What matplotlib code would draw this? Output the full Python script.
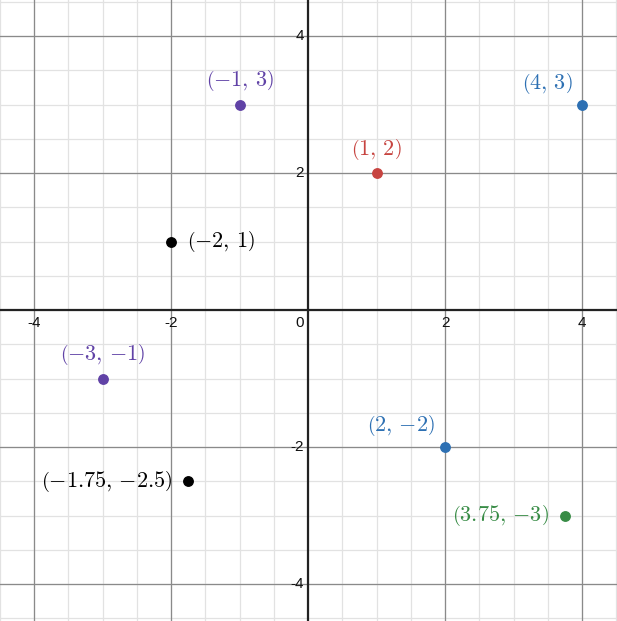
import matplotlib
matplotlib.use("Agg")
import matplotlib.pyplot as plt
import numpy as np

plt.rcParams['mathtext.fontset'] = 'cm'

xs = [-1, 1, 4, -2, -3, 2, -1.75, 3.75]
ys = [3, 2, 3, 1, -1, -2, -2.5, -3]
labels = [r"$\left(-1,\,3\right)$", r"$\left(1,\,2\right)$", r"$\left(4,\,3\right)$", r"$\left(-2,\,1\right)$",
          r"$\left(-3,\,{-1}\right)$", r"$\left(2,\,{-2}\right)$", r"$\left(-1.75,\,{-2.5}\right)$",
          r"$\left(3.75,\,{-3}\right)$"]
colors = ["#6042a6", "#c74440", "#2d70b3", "#000000", "#6042a6", "#2d70b3", "#000000", "#388c46"]
# label placement: offsets in pixels (dx, dy) and alignment
offsets = [(0, 24, 'center'), (0, 24, 'center'), (-35, 21, 'center'), (16, 0, 'left'),
           (0, 24, 'center'), (-44, 21, 'center'), (-16, 0, 'right'), (-16, 0, 'right')]

major_ticks = [-4, -2, 2, 4]

fig = plt.figure(figsize=(6.17, 6.21), dpi=100)
ax = fig.add_axes([0, 0, 1, 1])
ax.set_xlim(-308 / 68.5, (617 - 308) / 68.5)
ax.set_ylim(-(621 - 310) / 68.5, 310 / 68.5)

for v in np.arange(-5, 5.01, 0.5):
    ax.axvline(v, color="#e2e2e2", lw=0.9, zorder=0)
    ax.axhline(v, color="#e2e2e2", lw=0.9, zorder=0)
for v in major_ticks:
    ax.axvline(v, color="#8a8a8a", lw=0.9, zorder=1)
    ax.axhline(v, color="#8a8a8a", lw=0.9, zorder=1)
ax.axhline(0, color="#222222", lw=1.6, zorder=2)
ax.axvline(0, color="#222222", lw=1.6, zorder=2)

tick_fs = 11
for v in major_ticks:
    ax.annotate(f"{v}", (v, 0), xytext=(0, -6), textcoords="offset pixels",
                ha="center", va="top", fontsize=tick_fs, family="Liberation Sans", color="#111111")
    ax.annotate(f"{v}", (0, v), xytext=(-4, 0), textcoords="offset pixels",
                ha="right", va="center", fontsize=tick_fs, family="Liberation Sans", color="#111111")
ax.annotate("0", (0, 0), xytext=(-4, -6), textcoords="offset pixels",
            ha="right", va="top", fontsize=tick_fs, family="Liberation Sans", color="#111111")

for x, y, lab, c, (dx, dy, ha) in zip(xs, ys, labels, colors, offsets):
    ax.plot(x, y, 'o', color=c, ms=6.8, zorder=5)
    ax.annotate(lab, (x, y), xytext=(dx, dy), textcoords="offset pixels",
                ha=ha, va="center", fontsize=16, color=c, zorder=6)

ax.set_axis_off()
fig.savefig("out.png", dpi=100)
